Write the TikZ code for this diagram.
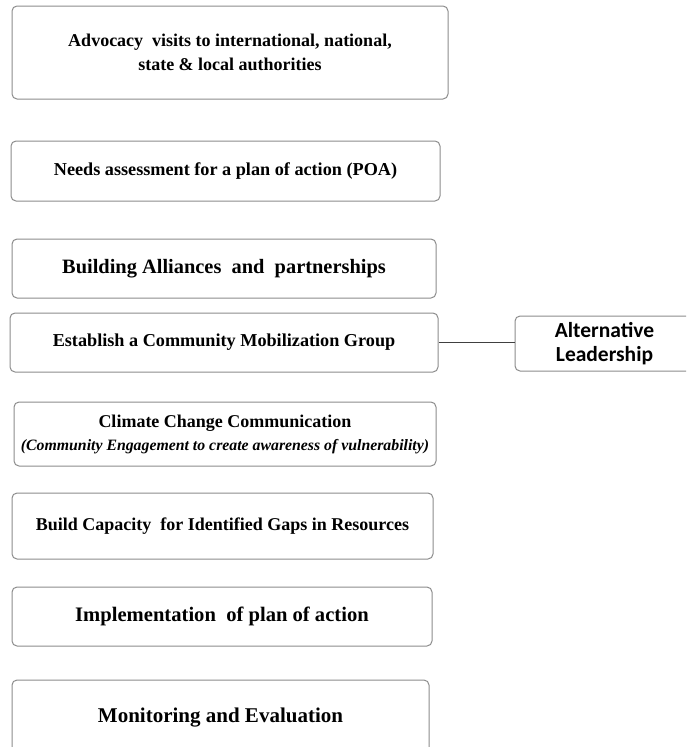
\documentclass[tikz,border=0pt]{standalone}
\usepackage{fontspec}
\setmainfont{Liberation Serif}
\newfontfamily\calib{Carlito}
\begin{document}
\begin{tikzpicture}[x=1pt,y=-1pt,
  box/.style={draw=black!45, line width=1pt, rounded corners=5pt, fill=white,
    inner sep=0pt, align=center, font=\bfseries},
  link/.style={draw=black!75, line width=1.3pt}]
\useasboundingbox (0,0) rectangle (686,747);
\clip (0,0) rectangle (686,747);
\node[box, minimum width=436pt, minimum height=93pt,
  font=\bfseries\fontsize{18}{23.5}\selectfont] (b1) at (230,52.5)
  {Advocacy\ \ visits to international, national,\\ state \& local authorities};
\node[box, minimum width=429pt, minimum height=60pt,
  font=\bfseries\fontsize{18.2}{20}\selectfont] (b2) at (225.5,171)
  {Needs assessment for a plan of action (POA)};
\node[box, minimum width=424pt, minimum height=59pt,
  font=\bfseries\fontsize{20.4}{22}\selectfont] (b3) at (224,268.5)
  {Building Alliances\ \ and\ \ partnerships};
\node[box, minimum width=428pt, minimum height=59pt,
  font=\bfseries\fontsize{18.2}{20}\selectfont] (b4) at (224,342.5)
  {Establish a Community Mobilization Group};
\node[box, minimum width=179pt, minimum height=55pt,
  font=\calib\bfseries\fontsize{21.5}{24}\selectfont] (alt) at (604.5,343.5)
  {Alternative\\Leadership};
\node[box, minimum width=422pt, minimum height=64pt,
  font=\bfseries\fontsize{18}{23}\selectfont] (b5) at (225,434)
  {Climate Change Communication\\
   {\fontsize{15.8}{18}\selectfont\itshape (Community Engagement to\ create awareness of vulnerability)}};
\node[box, minimum width=421pt, minimum height=66pt,
  font=\bfseries\fontsize{18}{20}\selectfont] (b6) at (222.5,526)
  {Build Capacity\ \ for Identified Gaps in Resources};
\node[box, minimum width=420pt, minimum height=59pt,
  font=\bfseries\fontsize{20.6}{22}\selectfont] (b7) at (222,616.5)
  {Implementation\ \ of plan of action};
\node[box, minimum width=417pt, minimum height=75pt,
  font=\bfseries\fontsize{21}{23}\selectfont] (b8) at (220.5,717.5)
  {Monitoring and Evaluation};
\draw[link] (b4.east) -- (b4.east -| alt.west);
\end{tikzpicture}
\end{document}
